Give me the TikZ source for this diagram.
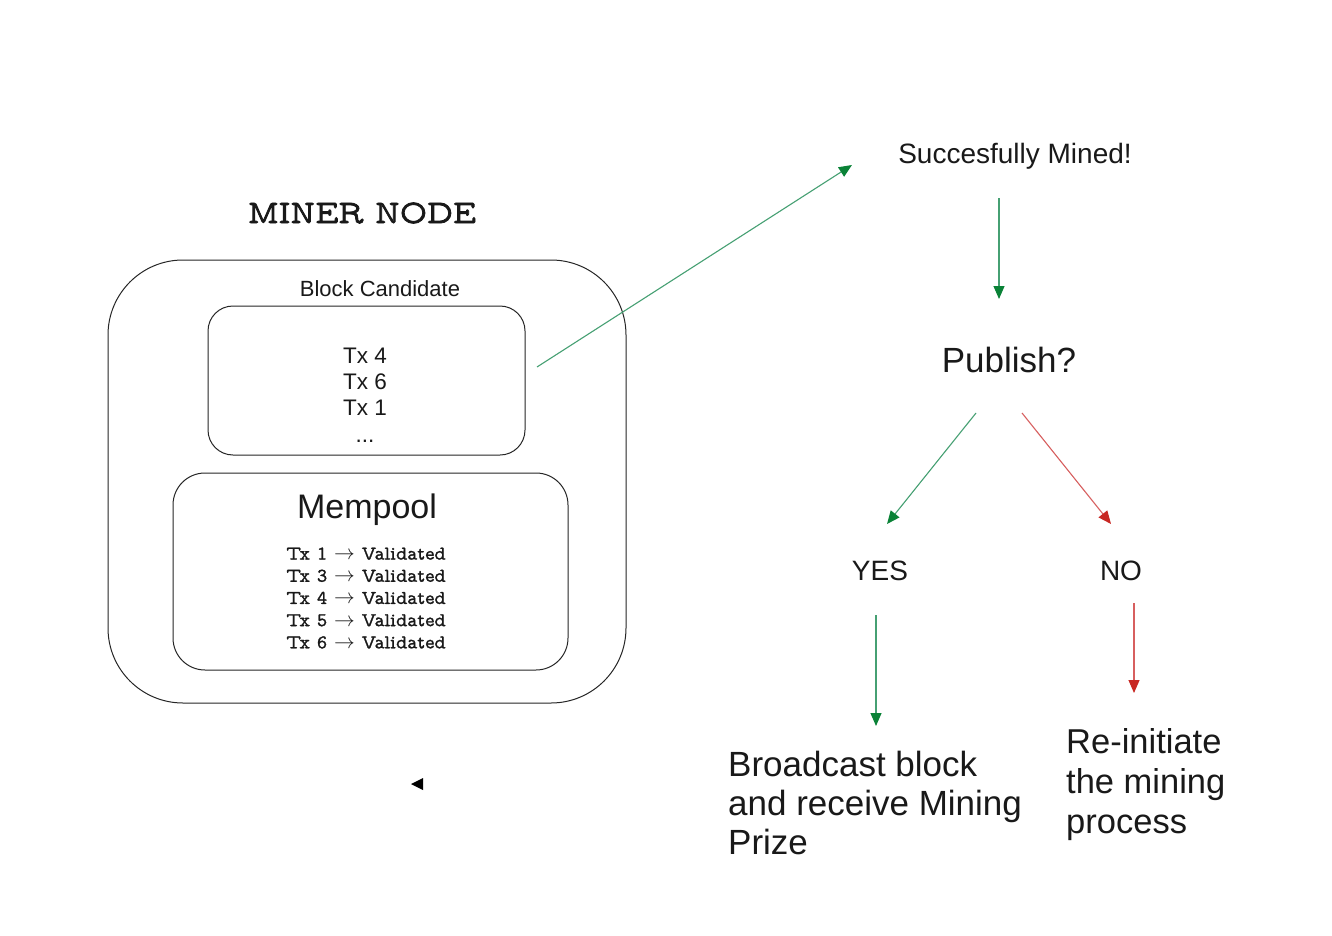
\documentclass[tikz,border=0pt]{standalone}
\usepackage{fontspec}
\setmainfont{Liberation Sans}
\newfontfamily\slabfont[FakeBold=1.2]{Latin Modern Mono Prop}
\newfontfamily\slabtitle[FakeBold=2.5]{Latin Modern Mono Prop}
\usetikzlibrary{arrows.meta}
\definecolor{gline}{RGB}{70,160,115}
\definecolor{ghead}{RGB}{10,130,55}
\definecolor{rline}{RGB}{215,95,95}
\definecolor{rhead}{RGB}{200,40,35}
\definecolor{txt}{RGB}{25,25,25}
\tikzset{
  box/.style={draw=black!85, line width=1pt},
  garrow/.style={draw=gline, line width=1.1pt, -{Triangle[length=13pt,width=11pt,color=ghead]}},
  rarrow/.style={draw=rline, line width=1.1pt, -{Triangle[length=13pt,width=11pt,color=rhead]}},
  lbl/.style={text=txt, inner sep=0pt},
}
\begin{document}
\begin{tikzpicture}[x=1pt,y=-1pt]
\useasboundingbox[fill=white] (0,0) rectangle (1332,936);
% miner node
\node[lbl, font=\slabtitle\fontsize{33}{36}\selectfont] (title) at (362,213) {MINER NODE};
\draw[box, rounded corners=75pt] (108,260) rectangle (626,703);
\node[lbl, font=\fontsize{22}{24}\selectfont] (bclbl) at (380,289) {Block Candidate};
\draw[box, rounded corners=25pt] (208,306) rectangle (525,455);
\node[lbl, font=\fontsize{22.5}{26}\selectfont, align=center] (txs) at (365,395) {Tx 4\\[0pt]Tx 6\\[0pt]Tx 1\\[1pt]...};
\draw[box, rounded corners=32pt] (173,473) rectangle (568,670);
\node[lbl, font=\fontsize{34}{38}\selectfont] (mem) at (367,510) {Mempool};
\node[lbl, font=\slabfont\fontsize{19.5}{22.2}\selectfont, align=center] (memtx) at (366,598)
  {Tx 1 $\rightarrow$ Validated\\Tx 3 $\rightarrow$ Validated\\Tx 4 $\rightarrow$ Validated\\Tx 5 $\rightarrow$ Validated\\Tx 6 $\rightarrow$ Validated};
% right side texts
\node[lbl, font=\fontsize{28}{30}\selectfont] (succ) at (1015,156) {Succesfully Mined!};
\node[lbl, font=\fontsize{35}{38}\selectfont] (pub) at (1009,360) {Publish?};
\node[lbl, font=\fontsize{28}{30}\selectfont] (yes) at (880,571) {YES};
\node[lbl, font=\fontsize{28}{30}\selectfont] (no) at (1121,571) {NO};
\node[lbl, font=\fontsize{35}{39}\selectfont, align=left, anchor=north west] (bc) at (728,751) {Broadcast block\\and receive Mining\\Prize};
\node[lbl, font=\fontsize{34.5}{40}\selectfont, align=left, anchor=north west] (re) at (1066,728) {Re-initiate\\the mining\\process};
% arrow endpoints
\coordinate (a1s) at (537,367); \coordinate (a1e) at (852,165);
\coordinate (a2s) at (999,198); \coordinate (a2e) at (999,299);
\coordinate (a3s) at (976,413); \coordinate (a3e) at (887,524);
\coordinate (a4s) at (1022,413); \coordinate (a4e) at (1111,524);
\coordinate (a5s) at (876,615); \coordinate (a5e) at (876,726);
\coordinate (a6s) at (1134,603); \coordinate (a6e) at (1134,693);
\draw[garrow] (a1s) -- (a1e);
\draw[garrow] (a2s) -- (a2e);
\draw[garrow] (a3s) -- (a3e);
\draw[rarrow] (a4s) -- (a4e);
\draw[garrow] (a5s) -- (a5e);
\draw[rarrow] (a6s) -- (a6e);
% small triangle
\fill[black] (411,784) -- (423,778) -- (423,790) -- cycle;
\end{tikzpicture}
\end{document}
